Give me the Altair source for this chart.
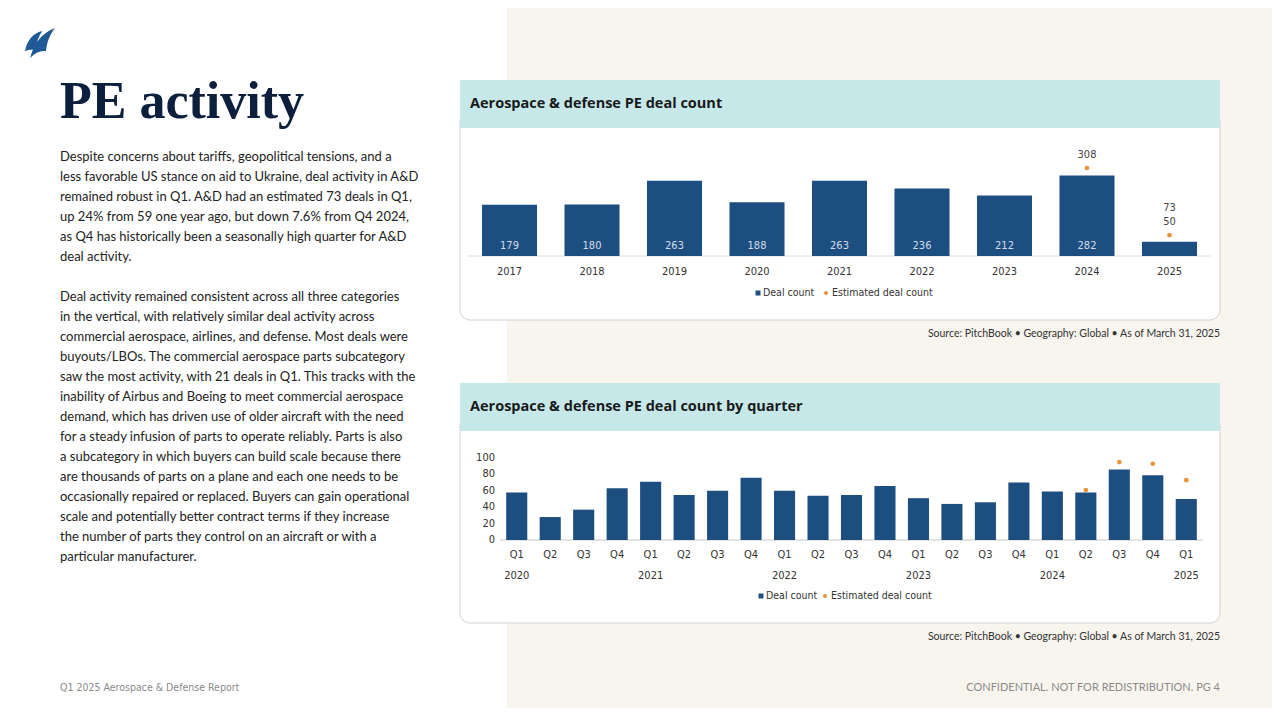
import altair as alt
import pandas as pd

# ---------------- data ----------------
years = ["2017", "2018", "2019", "2020", "2021", "2022", "2023", "2024", "2025"]
annual_deals = [179, 180, 263, 188, 263, 236, 212, 282, 50]
annual_est_years = ["2024", "2025"]
annual_est = [308, 73]

quarter_keys = [
    "2020 Q1", "2020 Q2", "2020 Q3", "2020 Q4",
    "2021 Q1", "2021 Q2", "2021 Q3", "2021 Q4",
    "2022 Q1", "2022 Q2", "2022 Q3", "2022 Q4",
    "2023 Q1", "2023 Q2", "2023 Q3", "2023 Q4",
    "2024 Q1", "2024 Q2", "2024 Q3", "2024 Q4",
    "2025 Q1",
]
quarterly_deals = [58, 28, 37, 63, 71, 55, 60, 76, 60, 54, 55, 66, 51, 44, 46, 70, 59, 58, 86, 79, 50]
quarter_est_keys = ["2024 Q2", "2024 Q3", "2024 Q4", "2025 Q1"]
quarter_est = [61, 95, 93, 73]
y_ticks_q = [0, 20, 40, 60, 80, 100]

title_text = "PE activity"
para1 = [
    "Despite concerns about tariffs, geopolitical tensions, and a",
    "less favorable US stance on aid to Ukraine, deal activity in A&D",
    "remained robust in Q1. A&D had an estimated 73 deals in Q1,",
    "up 24% from 59 one year ago, but down 7.6% from Q4 2024,",
    "as Q4 has historically been a seasonally high quarter for A&D",
    "deal activity.",
]
para2 = [
    "Deal activity remained consistent across all three categories",
    "in the vertical, with relatively similar deal activity across",
    "commercial aerospace, airlines, and defense. Most deals were",
    "buyouts/LBOs. The commercial aerospace parts subcategory",
    "saw the most activity, with 21 deals in Q1. This tracks with the",
    "inability of Airbus and Boeing to meet commercial aerospace",
    "demand, which has driven use of older aircraft with the need",
    "for a steady infusion of parts to operate reliably. Parts is also",
    "a subcategory in which buyers can build scale because there",
    "are thousands of parts on a plane and each one needs to be",
    "occasionally repaired or replaced. Buyers can gain operational",
    "scale and potentially better contract terms if they increase",
    "the number of parts they control on an aircraft or with a",
    "particular manufacturer.",
]
chart1_title = "Aerospace & defense PE deal count"
chart2_title = "Aerospace & defense PE deal count by quarter"
source_text = "Source: PitchBook  \u2022  Geography: Global  \u2022  As of March 31, 2025"
legend_labels = ["Deal count", "Estimated deal count"]
footer_left = "Q1 2025 Aerospace & Defense Report"
footer_right = "CONFIDENTIAL. NOT FOR REDISTRIBUTION.  PG 4"

# ---------------- tables ----------------
df_a = pd.DataFrame({"year": years, "deals": annual_deals})
df_ae = pd.DataFrame({"year": annual_est_years, "est": annual_est})
df_q = pd.DataFrame({"quarter": quarter_keys, "deals": quarterly_deals})
df_q["qlabel"] = df_q["quarter"].str.split(" ").str[1]
df_q["ylabel"] = df_q["quarter"].str.split(" ").str[0]
df_qe = pd.DataFrame({"quarter": quarter_est_keys, "est": quarter_est})
df_ticks = pd.DataFrame({"tick": y_ticks_q})
one = pd.DataFrame({"k": [0]})

# ---------------- style ----------------
W, H = 1264, 700
BLUE = "#1c4f80"
ORANGE = "#e8923a"
NAVY = "#0c1f3d"
BEIGE = "#f8f5ef"
TEAL = "#c7e8e9"
COND = "Liberation Sans Narrow, DejaVu Sans Condensed, Roboto, sans-serif"
CS = 11
BODY = "Lato"
HEAD = "Open Sans"


def P(v):
    # page pixel -> chart pixel
    return v - 8


def rect(x0, x1, y0, y1, **kw):
    return alt.Chart(one).mark_rect(**kw).encode(
        x=alt.value(P(x0)), x2=alt.value(P(x1)), y=alt.value(P(y0)), y2=alt.value(P(y1))
    )


def label(txt, x, y, **kw):
    return alt.Chart(one).mark_text(text=txt, **kw).encode(x=alt.value(P(x)), y=alt.value(P(y)))


def sym(x, y, **kw):
    return alt.Chart(one).mark_point(**kw).encode(x=alt.value(P(x)), y=alt.value(P(y)))


# ---------------- decoration ----------------
bg_beige = rect(507, 1290, 0, 730, fill=BEIGE)

logo_path = (
    "M -1 0.55 C -0.9 -0.1 -0.5 -0.65 0.15 -0.8 C -0.1 -0.45 -0.25 0 -0.3 0.45 "
    "C -0.55 0.4 -0.8 0.45 -1 0.55 Z "
    "M -0.65 1 C -0.5 0.3 -0.05 -0.6 1 -1 C 0.65 -0.55 0.45 -0.05 0.4 0.55 "
    "C 0.05 0.5 -0.35 0.65 -0.65 1 Z"
)
logo = sym(40, 43, shape=logo_path, size=900, filled=True, fill="#1f5a96", strokeWidth=0, opacity=1)

title = label(title_text, 60, 118, font="Liberation Serif", fontSize=52, fontWeight="bold",
              color=NAVY, align="left", baseline="alphabetic")
p1 = alt.Chart(one).mark_text(text=para1, font=BODY, fontSize=13, lineHeight=20, color="#222222",
                              align="left", baseline="alphabetic").encode(
    x=alt.value(P(60)), y=alt.value(P(160.5)))
p2 = alt.Chart(one).mark_text(text=para2, font=BODY, fontSize=13, lineHeight=20, color="#222222",
                              align="left", baseline="alphabetic").encode(
    x=alt.value(P(60)), y=alt.value(P(300.5)))

card1 = rect(460, 1220, 120, 320, fill="white", stroke="#d2d2d2", strokeWidth=1,
             cornerRadiusBottomLeft=10, cornerRadiusBottomRight=10)
head1 = rect(460, 1220, 80, 128, fill=TEAL)
t1 = label(chart1_title, 470, 104, font=HEAD, fontSize=14.5, fontWeight="bold", color="#1a1a1a",
           align="left", baseline="middle")
card2 = rect(460, 1220, 423, 623, fill="white", stroke="#d2d2d2", strokeWidth=1,
             cornerRadiusBottomLeft=10, cornerRadiusBottomRight=10)
head2 = rect(460, 1220, 383, 431, fill=TEAL)
t2 = label(chart2_title, 470, 407, font=HEAD, fontSize=14.5, fontWeight="bold", color="#1a1a1a",
           align="left", baseline="middle")

src1 = label(source_text, 1220, 334, font=BODY, fontSize=10.5, color="#333333", align="right", baseline="middle")
src2 = label(source_text, 1220, 637, font=BODY, fontSize=10.5, color="#333333", align="right", baseline="middle")

foot_l = label(footer_left, 60, 688, font=COND, fontSize=10.5, color="#8a8a8a", align="left", baseline="middle")
foot_r = label(footer_right, 1220, 688, font=BODY, fontSize=11, color="#8a8a8a", align="right", baseline="middle")


def legend(xsq, xdot, y):
    return [
        sym(xsq, y, shape="square", size=25, filled=True, color=BLUE, opacity=1),
        label(legend_labels[0], xsq + 5, y, font=COND, fontSize=10.5, color="#333333", align="left", baseline="middle"),
        sym(xdot, y, shape="circle", size=16, filled=True, color=ORANGE, opacity=1),
        label(legend_labels[1], xdot + 6, y, font=COND, fontSize=10.5, color="#333333", align="left", baseline="middle"),
    ]


# ---------------- chart 1 (annual) ----------------
x1 = alt.X("year:O", axis=None,
           scale=alt.Scale(range=[P(468.25), P(1210.75)], paddingInner=0.333, paddingOuter=0.1667))
y1s = alt.Scale(domain=[0, 350], range=[P(256), P(156)])

base1 = alt.Chart(one).mark_rule(color="#dcdcdc", strokeWidth=1).encode(
    x=alt.value(P(468)), x2=alt.value(P(1211)), y=alt.datum(0, scale=y1s, axis=None))
bars1 = alt.Chart(df_a).mark_bar(color=BLUE).encode(
    x=x1, y=alt.Y("deals:Q", scale=y1s, axis=None))
years1 = alt.Chart(df_a).mark_text(font=COND, fontSize=CS, color="#333333", baseline="middle").encode(
    x=x1, y=alt.value(P(272)), text="year:N")
lab_in1 = alt.Chart(df_a).transform_filter("datum.deals >= 100").mark_text(
    font=COND, fontSize=CS, color="#d3dce8", dy=-10, baseline="middle").encode(
    x=x1, y=alt.datum(0, scale=y1s, axis=None), text="deals:Q")
lab_out1 = alt.Chart(df_a).transform_filter("datum.deals < 100").mark_text(
    font=COND, fontSize=CS, color="#444444", dy=-20, baseline="middle").encode(
    x=x1, y=alt.Y("deals:Q", scale=y1s, axis=None), text="deals:Q")
est1 = alt.Chart(df_ae).mark_circle(color=ORANGE, size=22, opacity=1).encode(
    x=x1, y=alt.Y("est:Q", scale=y1s, axis=None))
est_lab_hi = alt.Chart(df_ae).transform_filter("datum.est >= 100").mark_text(
    font=COND, fontSize=CS, color="#444444", dy=-13, baseline="middle").encode(
    x=x1, y=alt.Y("est:Q", scale=y1s, axis=None), text="est:Q")
est_lab_lo = alt.Chart(df_ae).transform_filter("datum.est < 100").mark_text(
    font=COND, fontSize=CS, color="#444444", dy=-27, baseline="middle").encode(
    x=x1, y=alt.Y("est:Q", scale=y1s, axis=None), text="est:Q")

chart1 = alt.layer(base1, bars1, years1, lab_in1, lab_out1, est1, est_lab_hi, est_lab_lo)

# ---------------- chart 2 (quarterly) ----------------
xq = alt.X("quarter:N", axis=None,
           scale=alt.Scale(range=[P(500), P(1203)], paddingInner=0.37, paddingOuter=0.185))
y2s = alt.Scale(domain=[0, 100], range=[P(540), P(458)])

base2 = alt.Chart(one).mark_rule(color="#c8c8c8", strokeWidth=1).encode(
    x=alt.value(P(500)), x2=alt.value(P(1203)), y=alt.datum(0, scale=y2s, axis=None))
bars2 = alt.Chart(df_q).mark_bar(color=BLUE).encode(
    x=xq, y=alt.Y("deals:Q", scale=y2s, axis=None))
qlabels = alt.Chart(df_q).mark_text(font=COND, fontSize=CS, color="#333333", baseline="middle").encode(
    x=xq, y=alt.value(P(555)), text="qlabel:N")
years2 = alt.Chart(df_q).transform_filter("datum.qlabel == 'Q1'").mark_text(
    font=COND, fontSize=CS, color="#333333", baseline="middle").encode(
    x=xq, y=alt.value(P(576)), text="ylabel:N")
ylabels = alt.Chart(df_ticks).mark_text(
    font=COND, fontSize=CS, color="#333333", baseline="middle", align="right").encode(
    x=alt.value(P(495)), y=alt.Y("tick:Q", scale=y2s, axis=None), text="tick:Q")
est2 = alt.Chart(df_qe).mark_circle(color=ORANGE, size=22, opacity=1).encode(
    x=xq, y=alt.Y("est:Q", scale=y2s, axis=None))

chart2 = alt.layer(base2, bars2, qlabels, years2, ylabels, est2)

# ---------------- assemble ----------------
layers = [bg_beige, logo, title, p1, p2, card1, head1, t1, card2, head2, t2,
          src1, src2, foot_l, foot_r]
layers += legend(758, 826, 293)
layers += legend(761, 825, 596)

chart = alt.layer(*layers, chart1, chart2).resolve_scale(
    x="independent", y="independent"
).properties(
    width=W, height=H, padding=0, background="white",
    autosize=alt.AutoSizeParams(type="none"),
).configure_view(strokeWidth=0)

chart.save("out.html", embed_options={"renderer": "svg", "actions": False})
